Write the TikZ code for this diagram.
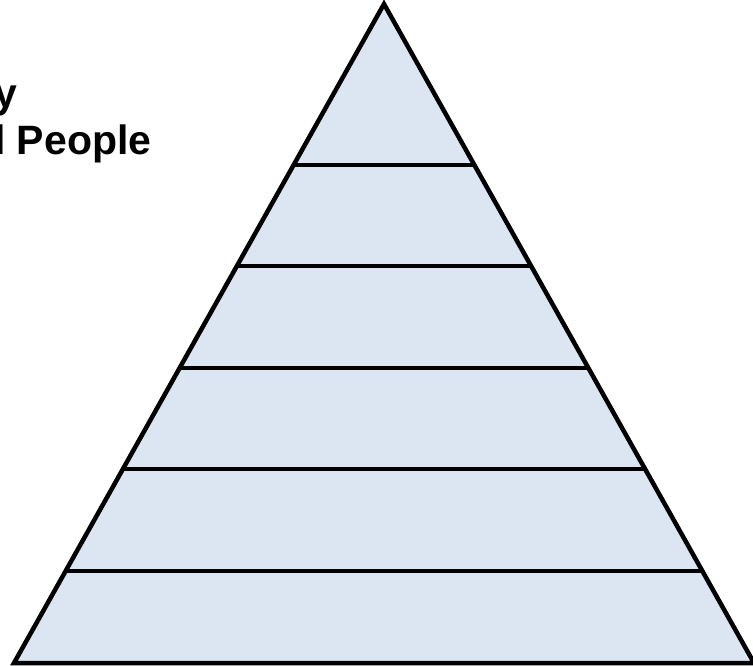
\documentclass[tikz,border=0pt]{standalone}
\usepackage{fontspec}
\setmainfont{Liberation Sans}
\definecolor{pyrfill}{HTML}{DCE6F2}
\begin{document}
\begin{tikzpicture}[x=1pt, y=-1pt,
    level/.style={line width=4.5pt},
    outline/.style={line width=4.5pt, line join=miter},
    caption/.style={font=\fontsize{41}{47}\selectfont\bfseries, align=left,
                    inner sep=0pt, anchor=base west}]
  \useasboundingbox (0,0) rectangle (753,665);
  \coordinate (top) at (384,4);
  \coordinate (bl) at (14,663);
  \coordinate (br) at (754,663);
  \fill[pyrfill] (top) -- (bl) -- (br) -- cycle;
  % levels of the pyramid
  \begin{scope}
    \clip (top) -- (bl) -- (br) -- cycle;
    \foreach \y in {165,266,368,469,571}
      \draw[level] (0,\y) -- (753,\y);
  \end{scope}
  \draw[outline] (top) -- (bl) -- (br) -- cycle;
  \node[caption] (title) at (-6,154) {y\\l People};
\end{tikzpicture}
\end{document}
